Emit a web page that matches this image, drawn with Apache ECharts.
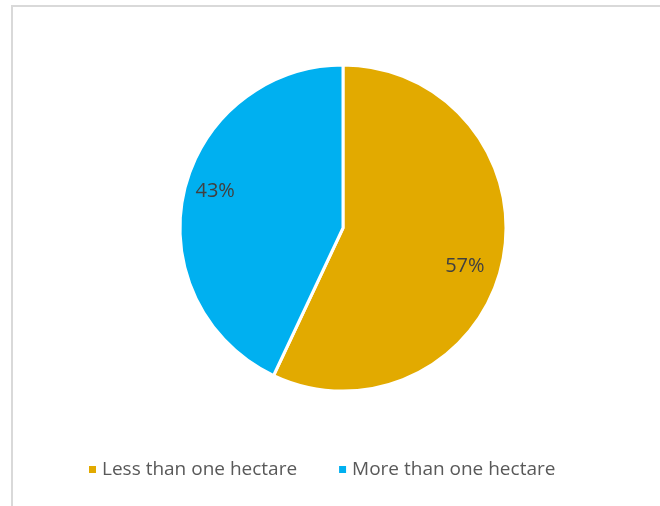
<!DOCTYPE html>
<html>
<head>
<meta charset="utf-8">
<style>
  html, body { margin: 0; padding: 0; background: #fff; }
  #chart { width: 660px; height: 506px; }
</style>
<script src="https://cdn.jsdelivr.net/npm/echarts@6/dist/echarts.min.js"></script>
</head>
<body>
<div id="chart"></div>
<script>
// Farm size shares
const categories = ['Less than one hectare', 'More than one hectare'];
const shares = [57, 43];
const colors = ['#E2AA00', '#00B0F0'];

const data = categories.map((name, i) => ({ name, value: shares[i] }));

// small nudges for the percentage labels
const labelNudge = [[-6, 10], [0, -8]];

const chart = echarts.init(document.getElementById('chart'), null, { renderer: 'canvas' });

chart.setOption({
  animation: false,
  color: colors,
  graphic: [{
    type: 'rect',
    shape: { x: 12, y: 6, width: 700, height: 560 },
    style: { fill: 'none', stroke: '#d9d9d9', lineWidth: 2 },
    silent: true,
    z: -1
  }],
  legend: {
    bottom: 22,
    left: 82,
    icon: 'rect',
    itemWidth: 9,
    itemHeight: 9,
    itemGap: 40,
    textStyle: { fontFamily: 'Open Sans', fontSize: 19, color: '#595959' },
    data: categories
  },
  series: [
    {
      type: 'pie',
      center: [343, 228],
      radius: [0, 163],
      startAngle: 90,
      clockwise: true,
      data: data,
      itemStyle: { borderColor: '#fff', borderWidth: 3 },
      label: { show: false },
      labelLine: { show: false },
      emphasis: { disabled: true }
    },
    {
      // invisible ring that carries the percentage labels further out
      type: 'pie',
      center: [343, 228],
      radius: [0, 256],
      startAngle: 90,
      clockwise: true,
      data: data,
      silent: true,
      legendHoverLink: false,
      itemStyle: { color: 'rgba(0,0,0,0)', borderWidth: 0 },
      label: {
        show: true,
        position: 'inside',
        formatter: p => p.value + '%',
        fontFamily: 'Open Sans',
        fontSize: 20,
        color: '#404040'
      },
      labelLayout: p => ({ dx: labelNudge[p.dataIndex][0], dy: labelNudge[p.dataIndex][1] }),
      labelLine: { show: false },
      emphasis: { disabled: true },
      z: 3
    }
  ]
});
</script>
</body>
</html>
